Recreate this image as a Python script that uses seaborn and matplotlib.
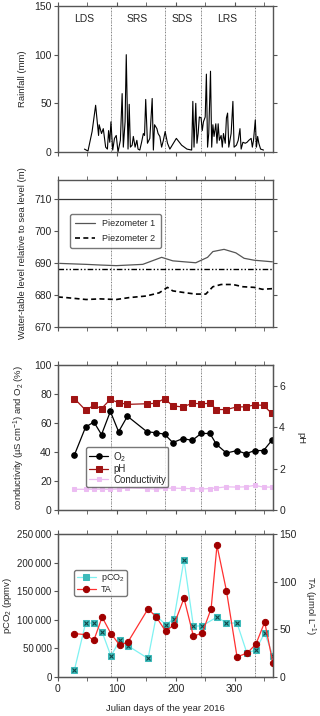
import numpy as np
import matplotlib
matplotlib.use("Agg")
import matplotlib.pyplot as plt
import matplotlib.ticker as mticker
import seaborn as sns
sns.set_style("ticks")
plt.rcParams['font.family'] = ['Liberation Sans', 'DejaVu Sans']
plt.rcParams['mathtext.fontset'] = 'custom'
plt.rcParams['mathtext.rm'] = 'Liberation Sans'
plt.rcParams['mathtext.it'] = 'Liberation Sans'

# ---- data ----
# rainfall (day, mm)
rain_day = [45, 51, 58, 64, 69, 70, 74, 77, 81, 84, 86, 88, 90, 93, 96, 99, 102, 106, 109, 111,
            114, 116, 119, 121, 123, 126, 128, 131, 134, 136, 139, 142, 145, 147, 149, 152, 156,
            160, 162, 164, 168, 170, 173, 176, 179, 182, 186, 190, 201, 210, 219, 227, 229, 231,
            234, 236, 238, 240, 243, 245, 247, 250, 252, 254, 256, 259, 261, 263, 265, 268, 270,
            272, 274, 277, 279, 281, 284, 286, 288, 290, 294, 297, 299, 303, 306, 309, 311, 314,
            318, 321, 324, 328, 330, 332, 335, 337, 339, 341, 344, 349]
rain_mm = [3, 1, 21, 48, 17, 28, 19, 24, 5, 3, 22, 10, 31, 2, 14, 17, 0, 12, 60, 5,
           31, 100, 3, 49, 5, 7, 16, 5, 12, 3, 2, 10, 19, 17, 54, 9, 14,
           55, 2, 28, 24, 19, 16, 5, 12, 21, 9, 3, 14, 7, 3, 2, 52, 5,
           50, 9, 19, 36, 35, 22, 31, 36, 80, 5, 19, 83, 5, 28, 16, 29, 9,
           29, 12, 17, 5, 19, 9, 35, 40, 5, 19, 52, 5, 7, 12, 24, 3, 10,
           9, 10, 12, 14, 5, 12, 33, 5, 16, 9, 3, 2]

season_names = ['LDS', 'SRS', 'SDS', 'LRS']
season_pos = [44, 134, 211, 287]
season_bounds = [90, 181, 243, 334]

# water table (m a.s.l.)
p1_day = [3, 48, 71, 99, 144, 176, 195, 234, 254, 263, 282, 302, 316, 333, 364]
p1_lvl = [689.9, 689.6, 689.4, 689.2, 689.6, 691.8, 690.7, 690.1, 691.8, 693.6, 694.3,
          693.2, 691.5, 690.9, 690.4]
p2_day = [0, 14, 48, 71, 99, 121, 150, 172, 186, 195, 217, 234, 251, 263, 277, 297, 314,
          333, 347, 364]
p2_lvl = [679.4, 679.2, 678.6, 678.8, 678.6, 679.2, 679.7, 680.7, 682.4, 681.3, 680.7,
          680.3, 680.3, 682.6, 683.3, 683.3, 682.6, 682.4, 681.8, 682.0]
ground_level = 710
ref_level = 688

# physico-chemistry
chem_day = [28, 47, 61, 74, 89, 103, 118, 151, 166, 181, 195, 212, 228, 243, 258, 269,
            286, 304, 319, 334, 349, 363]
o2 = [38, 57.2, 60.7, 52, 68, 54, 64.7, 54, 53.3, 52.3, 46.5, 49.3, 48, 52.8, 52.8, 45.3,
      39.3, 41, 38.8, 41, 41, 48]
ph = [5.38, 4.82, 5.05, 4.9, 5.34, 5.18, 5.1, 5.13, 5.15, 5.38, 5.02, 4.98, 5.15, 5.13,
      5.15, 4.85, 4.85, 4.98, 4.98, 5.08, 5.05, 4.66]
cond = [14.3, 14.3, 14.3, 14.3, 14.2, 14.5, 15.3, 14.8, 14.3, 15.0, 15.1, 14.9, 14.7, 14.5,
        14.8, 15.2, 16.0, 15.8, 16.0, 17.0, 15.8, 15.8]

# carbonate system (no pCO2 sample on day 260)
carb_day = [28, 47, 61, 75, 90, 105, 119, 153, 167, 183, 197, 214, 230, 245, 260, 270,
            286, 304, 321, 336, 351, 365]
pco2 = [12200, 94300, 94300, 78700, 36500, 64200, 54400, 32400, 107000, 91400, 101900,
        205000, 88500, 89700, None, 104700, 94300, 94300, 41100, 48000, 77000, 37000]
ta = [45.5, 44.4, 38.5, 62.8, 45.5, 33.3, 36.8, 71.5, 62.8, 47.9, 54.9, 82.6, 42.7, 46.2,
      71.5, 138, 90.6, 21.2, 25, 34.4, 57.6, 14.2]

# ---- figure ----
fig = plt.figure(figsize=(3.2, 7.16), dpi=100)
L, W = 0.181, 0.672
ax1 = fig.add_axes([L, 0.7877, W, 0.2039])
ax2 = fig.add_axes([L, 0.5433, W, 0.2053])
ax3 = fig.add_axes([L, 0.2877, W, 0.2025])
ax4 = fig.add_axes([L, 0.0545, W, 0.1997])

spine_col = '#555555'
tfs = 7.5   # tick labels
lfs = 6.8   # axis labels


def style_axis(ax, labels=False):
    ax.set_xlim(0, 365)
    ax.xaxis.set_major_locator(mticker.MultipleLocator(100))
    ax.xaxis.set_minor_locator(mticker.MultipleLocator(50))
    ax.tick_params(axis='x', which='both', top=True, bottom=True, direction='out',
                   length=3, color=spine_col, labelsize=tfs, labelbottom=labels, pad=2)
    ax.tick_params(axis='y', which='both', direction='out', length=3, color=spine_col,
                   labelsize=tfs, pad=1.5)
    for s in ax.spines.values():
        s.set_color(spine_col)
        s.set_linewidth(1.0)
    for b in season_bounds:
        ax.axvline(b, color='#666666', lw=0.6, ls=(0, (1.5, 1, 0.6, 1)), zorder=0)
    ax.set_xlabel('')
    ax.yaxis.set_label_coords(-0.144, 0.5)


def right_axis(ax):
    ax.tick_params(axis='y', direction='out', length=3, color=spine_col, labelsize=tfs,
                   pad=1.5)
    for s in ax.spines.values():
        s.set_color(spine_col)


# panel 1: rainfall
sns.lineplot(x=rain_day, y=rain_mm, ax=ax1, color='black', lw=0.8)
ax1.set_ylim(0, 150)
ax1.set_yticks([0, 50, 100, 150])
ax1.set_ylabel('Rainfall (mm)', fontsize=lfs)
style_axis(ax1)
ax1.tick_params(axis='y', right=True, which='major')
for name, p in zip(season_names, season_pos):
    ax1.text(p, 137, name, ha='center', va='center', fontsize=7.5)

# panel 2: water table
sns.lineplot(x=p1_day, y=p1_lvl, ax=ax2, color='#555555', lw=0.9, label='Piezometer 1')
sns.lineplot(x=p2_day, y=p2_lvl, ax=ax2, color='black', lw=1.2, ls=(0, (3, 2)),
             label='Piezometer 2')
ax2.axhline(ground_level, color='#333333', lw=0.9)
ax2.axhline(ref_level, color='black', lw=1.0, ls=(0, (4, 1.5, 1, 1.5, 1, 1.5)))
ax2.set_ylim(670, 716)
ax2.set_yticks([670, 680, 690, 700, 710])
ax2.set_ylabel('Water-table level relative to sea level (m)', fontsize=lfs)
style_axis(ax2)
ax2.tick_params(axis='y', right=True, which='major')
leg = ax2.legend(loc='upper left', bbox_to_anchor=(0.035, 0.80), fontsize=6.5,
                 handlelength=2.2, borderpad=0.6, labelspacing=0.6, fancybox=True)
leg.get_frame().set_edgecolor(spine_col)

# panel 3: O2, pH, conductivity
ax3b = ax3.twinx()
sns.lineplot(x=chem_day, y=o2, ax=ax3, color='black', lw=0.9, marker='o', ms=4,
             mec='black', label='O$_2$', legend=False)
sns.lineplot(x=chem_day, y=cond, ax=ax3, color='#ecbcf2', lw=0.9, marker='s', ms=3,
             mec='#ecbcf2', label='Conductivity', legend=False)
sns.lineplot(x=chem_day, y=ph, ax=ax3b, color='#a01414', lw=0.9, marker='s', ms=4,
             mec='#a01414', label='pH', legend=False)
ax3.set_ylim(0, 100)
ax3.set_yticks(range(0, 101, 20))
ax3b.set_ylim(0, 7)
ax3b.set_yticks([0, 2, 4, 6])
ax3.set_ylabel('conductivity (µS cm$^{-1}$) and O$_2$ (%)', fontsize=lfs)
ax3b.set_ylabel('pH', fontsize=lfs, rotation=270, va='center')
style_axis(ax3)
right_axis(ax3b)
ax3b.yaxis.set_label_coords(1.13, 0.5)
h1, l1 = ax3.get_legend_handles_labels()
h2, l2 = ax3b.get_legend_handles_labels()
leg = ax3.legend([h1[0], h2[0], h1[1]], [l1[0], l2[0], l1[1]], loc='upper left',
                 bbox_to_anchor=(0.11, 0.465), fontsize=7, handlelength=2.0,
                 borderpad=0.25, labelspacing=0.05, handletextpad=0.5, fancybox=True)
leg.get_frame().set_edgecolor(spine_col)

# panel 4: pCO2 and TA
ax4b = ax4.twinx()
pc_day = [d for d, v in zip(carb_day, pco2) if v is not None]
pc_val = [v for v in pco2 if v is not None]
sns.lineplot(x=pc_day, y=pc_val, ax=ax4, color='#7ff2f2', lw=0.9, marker='s', ms=5,
             mfc='#3cbaba', mec='#3cbaba', label='pCO$_2$', legend=False)
ax4.plot(pc_day, pc_val, ls='none', marker='x', ms=3, mew=0.8, color='#104848')
sns.lineplot(x=carb_day, y=ta, ax=ax4b, color='#ff3030', lw=0.9, marker='o', ms=4.5,
             mfc='#a00000', mec='#a00000', label='TA', legend=False)
ax4.set_ylim(0, 250000)
ax4.set_yticks(range(0, 250001, 50000))
ax4.yaxis.set_major_formatter(mticker.FuncFormatter(
    lambda v, p: '{:,}'.format(int(v)).replace(',', '\u2009')))
ax4b.set_ylim(0, 150)
ax4b.set_yticks([0, 50, 100, 150])
ax4.set_ylabel('pCO$_2$ (ppmv)', fontsize=lfs)
ax4b.set_ylabel('TA (µmol L$^{-1}$)', fontsize=lfs, rotation=270, va='center')
style_axis(ax4, labels=True)
ax4.tick_params(axis='y', labelsize=7)
ax4.yaxis.set_label_coords(-0.205, 0.5)
ax4b.yaxis.set_label_coords(1.172, 0.5)
ax4.set_xlabel('Julian days of the year 2016', fontsize=lfs, labelpad=7)
right_axis(ax4b)
h1, l1 = ax4.get_legend_handles_labels()
h2, l2 = ax4b.get_legend_handles_labels()
leg = ax4.legend(h1 + h2, l1 + l2, loc='upper left', bbox_to_anchor=(0.055, 0.78),
                 fontsize=6.5, handlelength=2.2, borderpad=0.25, labelspacing=0.05,
                 handletextpad=0.5, fancybox=True)
leg.get_frame().set_edgecolor(spine_col)

fig.savefig('out.png', dpi=100)
